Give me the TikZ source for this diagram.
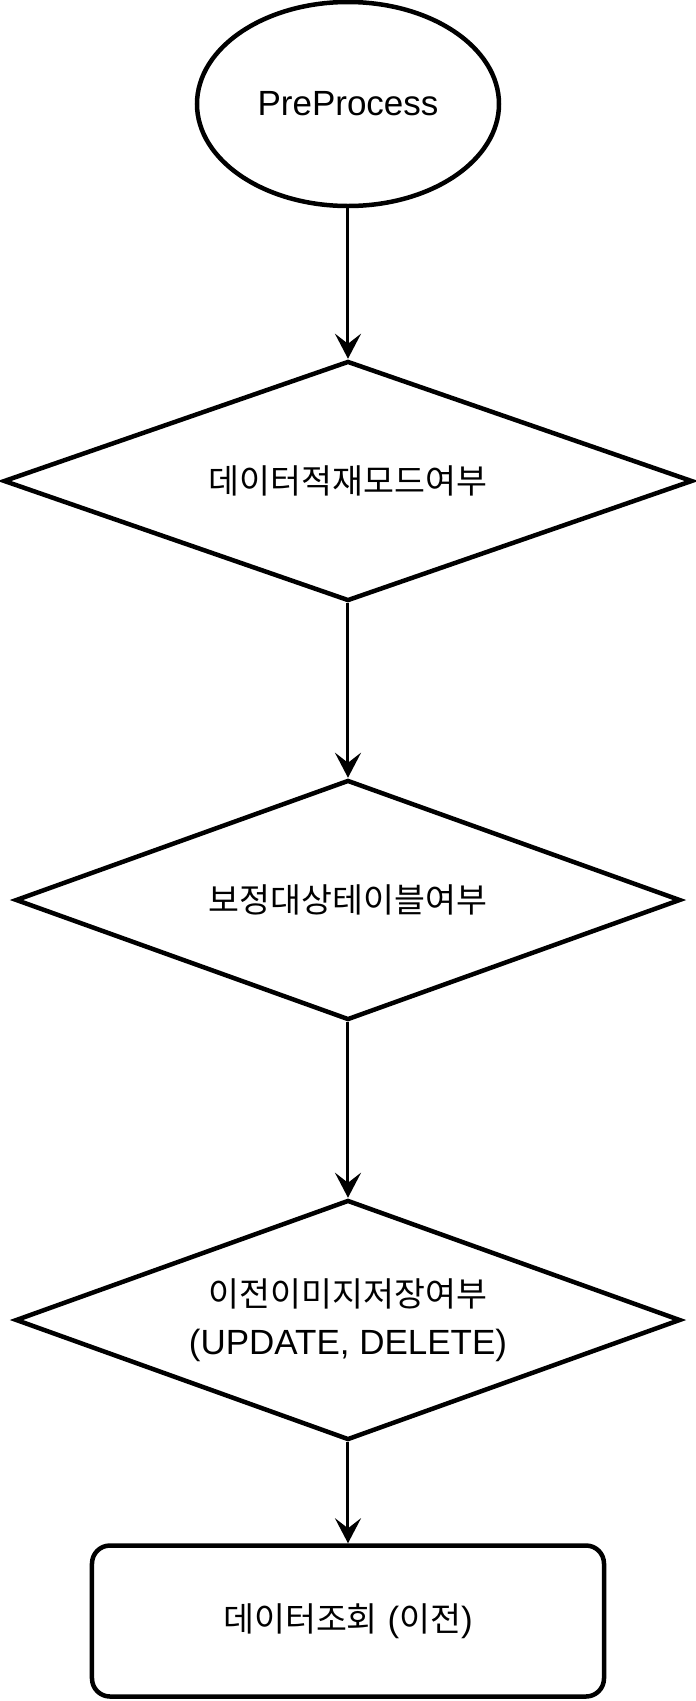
\documentclass[tikz,border=0pt]{standalone}
\usepackage{fontspec}
\setmainfont{Liberation Sans}
\newfontfamily\kr{Noto Sans CJK KR}[Scale=0.96]
\usetikzlibrary{shapes.geometric,arrows.meta}
\tikzstyle{terminal} = [ellipse, draw=black, line width=4.5pt, minimum width=302pt, minimum height=204pt, inner sep=0pt]
\tikzstyle{decision} = [diamond, draw=black, line width=4.5pt, aspect=2.8, inner sep=0pt, minimum width=665pt, minimum height=240pt, align=center]
\tikzstyle{process} = [rectangle, rounded corners=18pt, draw=black, line width=4.5pt, minimum width=512pt, minimum height=151pt]
\tikzstyle{arrow} = [line width=3pt,-{Stealth[length=25pt,width=26pt,inset=10pt]}]

\begin{document}
\begin{tikzpicture}[font=\fontsize{35pt}{48pt}\selectfont]
\useasboundingbox (-348pt,104pt) rectangle (348pt,-1597pt);

\node (start) [terminal] {PreProcess};
\node (loadMode) [decision, below of=start, node distance=377pt, minimum width=689pt] {\kr 데이터적재모드여부};
\node (targetTbl) [decision, below of=loadMode, node distance=419pt] {\kr 보정대상테이블여부};
\node (prevImg) [decision, below of=targetTbl, node distance=420pt] {{\kr 이전이미지저장여부}\\(UPDATE, DELETE)};
\node (query) [process, below of=prevImg, node distance=301pt] {{\kr 데이터조회} ({\kr 이전})};

\draw [arrow] (start) -- (loadMode);
\draw [arrow] (loadMode) -- (targetTbl);
\draw [arrow] (targetTbl) -- (prevImg);
\draw [arrow] (prevImg) -- (query);

\end{tikzpicture}
\end{document}
